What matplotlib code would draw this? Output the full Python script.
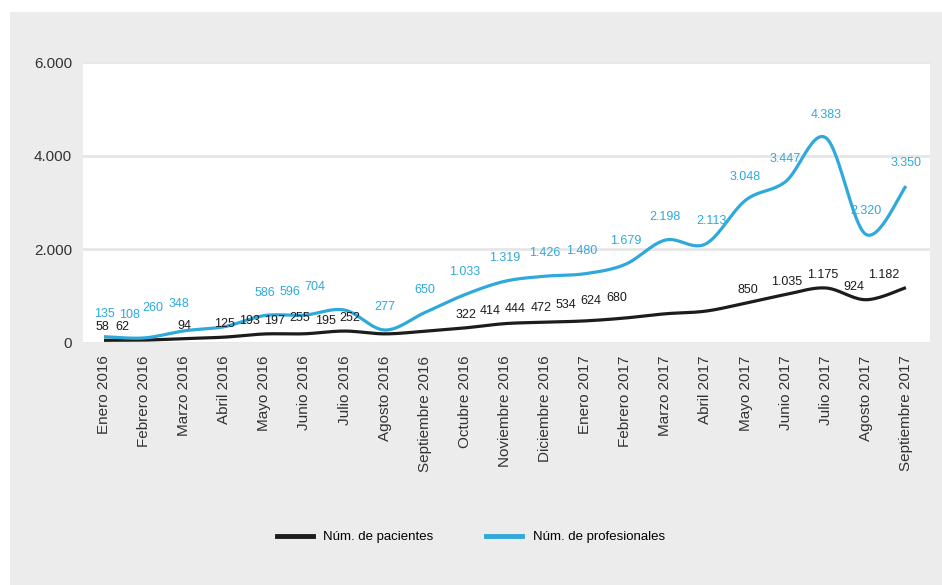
import numpy as np
import matplotlib.pyplot as plt
from matplotlib.patches import Rectangle
from matplotlib.lines import Line2D
from matplotlib.ticker import FuncFormatter

plt.rcParams['font.family'] = ['Liberation Sans', 'DejaVu Sans']

# Datos mensuales
meses = ["Enero 2016", "Febrero 2016", "Marzo 2016", "Abril 2016", "Mayo 2016",
         "Junio 2016", "Julio 2016", "Agosto 2016", "Septiembre 2016", "Octubre 2016",
         "Noviembre 2016", "Diciembre 2016", "Enero 2017", "Febrero 2017", "Marzo 2017",
         "Abril 2017", "Mayo 2017", "Junio 2017", "Julio 2017", "Agosto 2017",
         "Septiembre 2017"]
pacientes = [58, 62, 94, 125, 193, 197, 255, 195, 252, 322, 414, 444, 472, 534,
             624, 680, 850, 1035, 1175, 924, 1182]
profesionales = [135, 108, 260, 348, 586, 596, 704, 277, 650, 1033, 1319, 1426,
                 1480, 1679, 2198, 2113, 3048, 3447, 4383, 2320, 3350]

# desplazamiento horizontal de las etiquetas (px) para que no se pisen
dx_prof = [0, -15, -31, -45, 0, -15, -30, 0, 0, 0, 0, 0, -3, 0, 0, 6, 0, 0, 0, 0, 0]
dx_pac = [-2, -22, 0, 0, -15, -30, -45, -59, -75, 1, -15, -30, -44, -59, -74, -89,
          2, 1, -3, -12, -22]

AZUL = '#2EA9DA'
NEGRO = '#1C1C1C'


def suavizar(x, y, n=30):
    # curva suavizada tipo Catmull-Rom (como la línea suavizada de Excel)
    p = np.column_stack([x, y]).astype(float)
    p = np.vstack([p[0], p, p[-1]])
    t = np.linspace(0, 1, n)[:, None]
    out = []
    for i in range(1, len(p) - 2):
        p0, p1, p2, p3 = p[i - 1], p[i], p[i + 1], p[i + 2]
        c1 = p1 + (p2 - p0) / 6
        c2 = p2 - (p3 - p1) / 6
        seg = ((1 - t) ** 3) * p1 + 3 * ((1 - t) ** 2) * t * c1 + 3 * (1 - t) * t ** 2 * c2 + t ** 3 * p2
        out.append(seg if i == 1 else seg[1:])
    out = np.vstack(out)
    return out[:, 0], out[:, 1]


def miles(v, pos):
    return f"{int(v):,}".replace(",", ".")


fig = plt.figure(figsize=(9.42, 5.85), dpi=100)
fig.patch.set_facecolor('white')
fig.patches.append(Rectangle((10 / 942, 0), 1, 1 - 12 / 585, transform=fig.transFigure,
                             facecolor='#ECECEC', edgecolor='none', zorder=-10))

ax = fig.add_axes([83 / 942, 1 - 343 / 585, (930 - 83) / 942, (343 - 62) / 585])
ax.set_facecolor('white')

x = np.arange(len(meses))
xs, ys = suavizar(x, pacientes)
ax.plot(xs, ys, color=NEGRO, lw=2.3, solid_capstyle='butt', zorder=3)
xs, ys = suavizar(x, profesionales)
ax.plot(xs, ys, color=AZUL, lw=2.3, solid_capstyle='butt', zorder=3)

# etiquetas de valores
for i in range(len(meses)):
    ax.annotate(miles(profesionales[i], None), (x[i], profesionales[i]),
                xytext=(dx_prof[i], 23), textcoords='offset pixels',
                ha='center', va='center', fontsize=9, color=AZUL, zorder=4)
    ax.annotate(miles(pacientes[i], None), (x[i], pacientes[i]),
                xytext=(dx_pac[i], 13), textcoords='offset pixels',
                ha='center', va='center', fontsize=9, color=NEGRO, zorder=4)

ax.set_xlim(-0.524, 20.6)
ax.set_ylim(0, 6000)
ax.set_yticks([0, 2000, 4000, 6000])
ax.yaxis.set_major_formatter(FuncFormatter(miles))
ax.set_xticks(x)
ax.set_xticklabels(meses, rotation=90, fontsize=11, color='#333333')
ax.tick_params(axis='y', labelsize=11, labelcolor='#333333', length=0, pad=8)
ax.tick_params(axis='x', length=0, pad=9)
ax.grid(axis='y', color='#E6E6E6', lw=2)
ax.set_axisbelow(True)
for s in ax.spines.values():
    s.set_visible(False)

handles = [Line2D([], [], color=NEGRO, lw=3.5), Line2D([], [], color=AZUL, lw=3.5)]
fig.legend(handles, ["Núm. de pacientes", "Núm. de profesionales"], loc='center',
           bbox_to_anchor=(0.5, 48 / 585), ncol=2, frameon=False, fontsize=9.5,
           handlelength=2.7, handletextpad=0.8, columnspacing=4.0)

fig.savefig('out.png', dpi=100, facecolor=fig.get_facecolor())
